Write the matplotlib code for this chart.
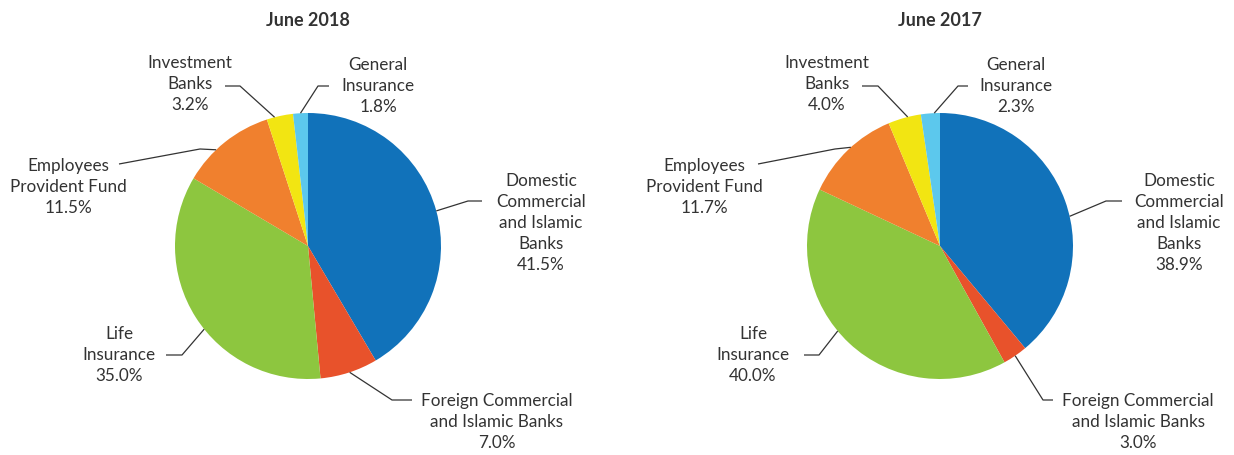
import numpy as np
import matplotlib.pyplot as plt

plt.rcParams['font.family'] = ['Lato', 'DejaVu Sans']

# sector order runs clockwise from 12 o'clock
sectors = ['Domestic\nCommercial\nand Islamic\nBanks',
           'Foreign Commercial\nand Islamic Banks',
           'Life\nInsurance',
           'Employees\nProvident Fund',
           'Investment\nBanks',
           'General\nInsurance']
share_2018 = [41.5, 7.0, 35.0, 11.5, 3.2, 1.8]
share_2017 = [38.9, 3.0, 40.0, 11.7, 4.0, 2.3]
colors = ['#1172ba', '#e8522b', '#8dc63f', '#f0802e', '#f2e512', '#5cc8ed']
ink = '#333333'

W, H = 1234, 455
R = 133

# label layout in pixel coords (x right, y down)
panels = [
    dict(title='June 2018', values=share_2018, cx=308,
         frac=[0.5, 0.49, 0.45, 0.38, 0.3, 0.5],
         elbow=[(468, 201), (392, 400), (182, 355), (200, 149), (240, 86), (318, 86)],
         end=[(482, 201), (412, 400), (166, 355), (119, 164), (225, 86), (329, 86)],
         text=[(541, 223), (497, 422), (119, 355), (68, 187), (190, 84), (378, 86)]),
    dict(title='June 2017', values=share_2017, cx=940,
         frac=[0.55, 0.5, 0.55, 0.54, 0.6, 0.7],
         elbow=[(1106, 201), (1043, 400), (819, 355), (835, 149), (878, 86), (958, 86)],
         end=[(1122, 201), (1053, 400), (804, 355), (758, 164), (862, 86), (968, 86)],
         text=[(1179, 223), (1138, 422), (753, 355), (704, 187), (827, 84), (1016, 86)]),
]

fig = plt.figure(figsize=(W / 100, H / 100), dpi=100)
ax = fig.add_axes([0, 0, 1, 1])

for p in panels:
    vals = p['values']
    cx, cy = p['cx'], H - 246
    ax.pie(vals, colors=colors, startangle=90, counterclock=False,
           center=(cx, cy), radius=R, frame=True,
           wedgeprops=dict(linewidth=0))
    ax.text(cx, H - 20, p['title'], ha='center', va='center',
            fontsize=13, fontweight='bold', color=ink)

    cum = np.concatenate([[0], np.cumsum(vals)]) / sum(vals)
    for i, v in enumerate(vals):
        f = cum[i] + p['frac'][i] * (cum[i + 1] - cum[i])
        ang = np.deg2rad(90 - 360 * f)
        x0, y0 = cx + R * np.cos(ang), cy + R * np.sin(ang)
        (ex, ey), (nx, ny) = p['elbow'][i], p['end'][i]
        ax.plot([x0, ex, nx], [y0, H - ey, H - ny], color=ink, lw=0.9,
                solid_capstyle='butt')
        tx, ty = p['text'][i]
        ax.text(tx, H - ty, f'{sectors[i]}\n{v:.1f}%', ha='center', va='center',
                fontsize=12.3, color=ink, linespacing=1.38)

ax.set_xlim(0, W)
ax.set_ylim(0, H)
ax.set_aspect('auto')
ax.axis('off')

fig.savefig('out.png', dpi=100, facecolor='white')
